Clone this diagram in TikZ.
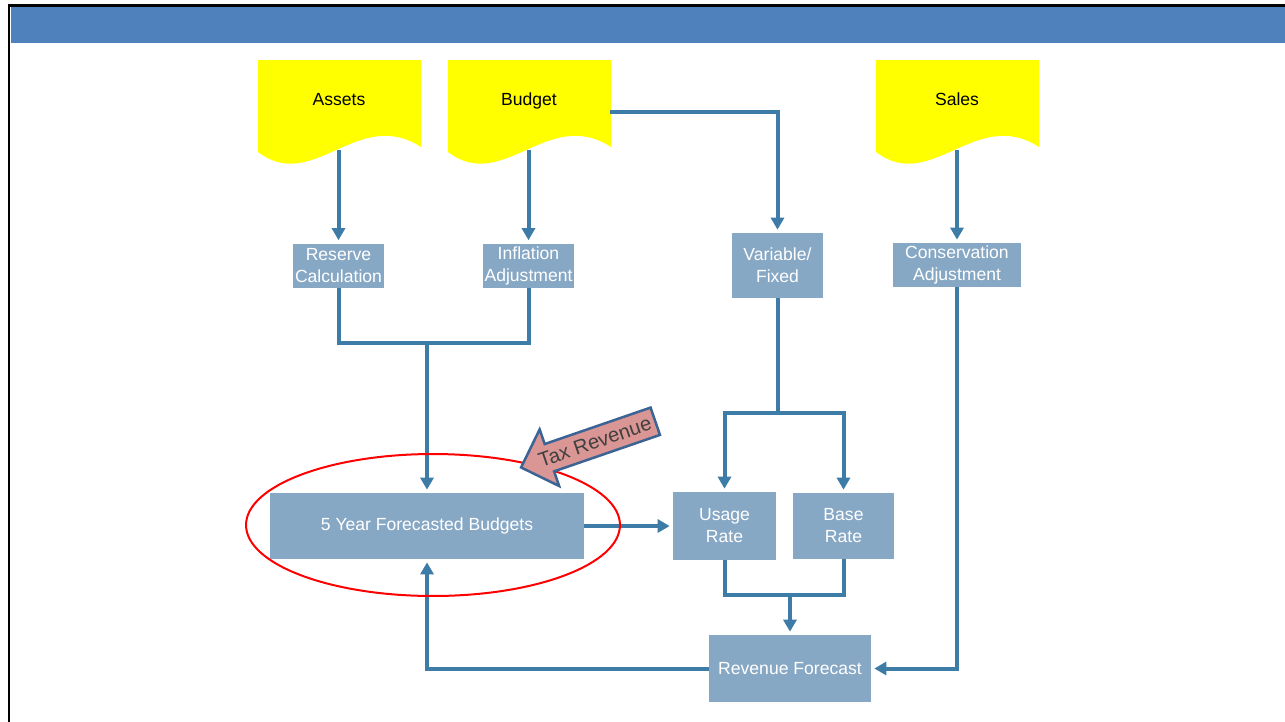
\documentclass[tikz,border=0pt]{standalone}
\usepackage{fontspec}
\setmainfont{Liberation Sans}
\usepackage{tikz}
\usetikzlibrary{arrows.meta,shapes.arrows,calc}
\definecolor{band}{HTML}{4F81BD}
\definecolor{flowline}{HTML}{3D7CA7}
\definecolor{boxfill}{HTML}{87A8C5}
\definecolor{docyellow}{HTML}{FFFF00}
\definecolor{taxpink}{HTML}{D99694}
\definecolor{taxedge}{HTML}{3B6495}

\tikzset{
  procbox/.style={fill=boxfill, text=white, font=\fontsize{10}{12.5}\selectfont, align=center, inner sep=0pt},
  doclabel/.style={font=\fontsize{10}{12}\selectfont, text=black, anchor=base},
  link/.style={draw=flowline, line width=0.8mm},
  flow/.style={link, -{Triangle[length=2.4mm,width=2.6mm]}, shorten >=0.6mm},
}

\begin{document}
\begin{tikzpicture}[x=0.02cm, y=-0.02cm]
    \clip (0,0) rectangle (1285,721);
    \useasboundingbox (0,0) rectangle (1285,721);
    \fill[white] (0,0) rectangle (1285,721);

    % Slide frame and title band
    \draw[line width=0.6mm] (9,5) rectangle (1300,740);
    \fill[band] (10.5,6.5) rectangle (1285,43);

    % Document shapes
    \foreach \x in {258,448,876}
        \fill[docyellow] (\x,60) -- (\x+163,60) -- (\x+163,147)
            .. controls (\x+100,106) and (\x+55,194) .. (\x,152) -- cycle;

    \node[doclabel] (assets) at (339,105) {Assets};
    \node[doclabel] (budget) at (529,105) {Budget};
    \node[doclabel] (sales) at (957,105) {Sales};
    \coordinate (assets-out) at (338.5,150);
    \coordinate (budget-out) at (528.5,150);
    \coordinate (budget-side) at (610,112);
    \coordinate (sales-out) at (957,150);

    % Process boxes
    \node[procbox, minimum width=1.82cm, minimum height=0.88cm] (reserve) at (338.5,265.5) {Reserve\\Calculation};
    \node[procbox, minimum width=1.82cm, minimum height=0.88cm] (inflation) at (528.5,265.5) {Inflation\\Adjustment};
    \node[procbox, minimum width=1.82cm, minimum height=1.3cm] (varfix) at (777.5,265.5) {Variable/\\Fixed};
    \node[procbox, minimum width=2.56cm, minimum height=0.88cm] (conserv) at (957,265) {Conservation\\Adjustment};
    \node[procbox, minimum width=6.28cm, minimum height=1.32cm] (fyb) at (427,526) {5 Year Forecasted Budgets};
    \node[procbox, minimum width=2.06cm, minimum height=1.36cm] (usage) at (724.5,526) {Usage\\Rate};
    \node[procbox, minimum width=2.02cm, minimum height=1.32cm] (base) at (843.5,526) {Base\\Rate};
    \node[procbox, minimum width=3.24cm, minimum height=1.34cm] (revenue) at (790,668.5) {Revenue Forecast};

    % Connectors
    \draw[flow] (assets-out) -- (assets-out |- reserve.north);
    \draw[flow] (budget-out) -- (budget-out |- inflation.north);
    \draw[flow] (budget-side) -| (varfix.north);
    \draw[flow] (sales-out) -- (sales-out |- conserv.north);
    \coordinate (join-a) at (427,343);
    \draw[link] (reserve.south) |- (join-a) -| (inflation.south);
    \draw[flow] (join-a) -- (fyb.north);
    \coordinate (join-b) at (777.5,413);
    \draw[link] (varfix.south) -- (join-b);
    \draw[flow] (join-b) -| (usage.north);
    \draw[flow] (join-b) -| (base.north);
    \draw[flow] (fyb.east) -- (usage.west);
    \coordinate (join-c) at (790,595);
    \draw[link] (usage.south) |- (join-c) -| (base.south);
    \draw[flow] (join-c) -- (revenue.north);
    \draw[flow] (revenue.west) -| (fyb.south);
    \draw[flow] (conserv.south) |- (revenue.east);

    % Highlight
    \draw[red, line width=0.4mm] (433,525) ellipse [x radius=3.74cm, y radius=1.42cm];
    \node[single arrow, shape border rotate=180, rotate=19, fill=taxpink, draw=taxedge,
          line width=0.5mm, text=black!75, font=\fontsize{11.5}{13}\selectfont,
          single arrow head extend=3.1mm, inner xsep=2pt, inner ysep=3.5pt] (tax) at (595,442) {Tax Revenue};
\end{tikzpicture}
\end{document}
